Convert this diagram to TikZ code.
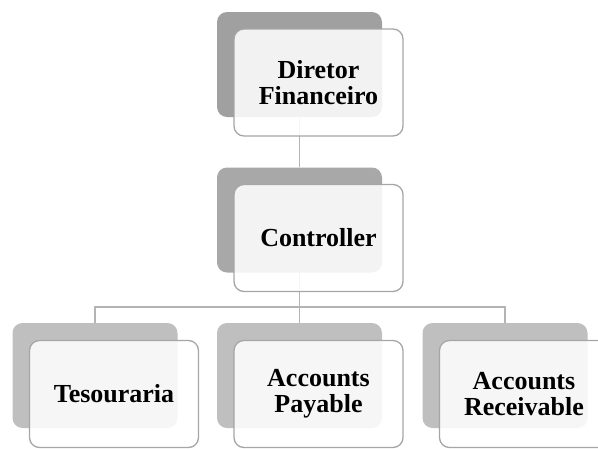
\documentclass[tikz,border=0pt]{standalone}
\usepackage{fontspec}
\setmainfont{Liberation Serif}
\begin{document}
\begin{tikzpicture}[x=1pt,y=-1pt,
  backcard/.style={draw=none, rounded corners=10pt, minimum width=165pt, minimum height=105pt, inner sep=0pt},
  topcard/.style={backcard, fill=#1},
  frontcard/.style={draw=framegray, line width=1.3pt, fill=white, fill opacity=0.87, text opacity=1,
    rounded corners=10pt, minimum width=169pt, minimum height=107pt, inner sep=0pt,
    align=center, font=\bfseries\fontsize{26}{26}\selectfont},
  link/.style={draw=linegray, line width=1.3pt}
]
\definecolor{framegray}{HTML}{A6A6A6}
\definecolor{linegray}{HTML}{B4B4B4}
\definecolor{cardA}{HTML}{A0A0A0}
\definecolor{cardB}{HTML}{A8A8A8}
\definecolor{cardC}{HTML}{BFBFBF}
\useasboundingbox (0,0) rectangle (598,448);

% shaded back cards
\node[topcard=cardA] (dirB) at (299.5,64.5) {};
\node[topcard=cardB] (ctlB) at (299.5,220) {};
\node[topcard=cardC] (tesB) at (95,375.5) {};
\node[topcard=cardC] (apB)  at (299.5,375.5) {};
\node[topcard=cardC] (arB)  at (505,375.5) {};

% connectors
\draw[link] (dirB.south) -- (ctlB.north);
\draw[link] (ctlB.south) -- (299.5,307) coordinate (bus);
\draw[link] (bus) -| (tesB.north);
\draw[link] (bus) -- (apB.north);
\draw[link] (bus) -| (arB.north);

% front cards with labels
\node[frontcard] (dir) at (318.5,82.5) {Diretor\\Financeiro};
\node[frontcard] (ctl) at (318.5,238) {Controller};
\node[frontcard] (tes) at (114,394) {Tesouraria};
\node[frontcard] (ap)  at (318.5,394) {Accounts\\Payable};
\node[frontcard] (ar)  at (524,394) {Accounts\\Receivable};
\end{tikzpicture}
\end{document}
